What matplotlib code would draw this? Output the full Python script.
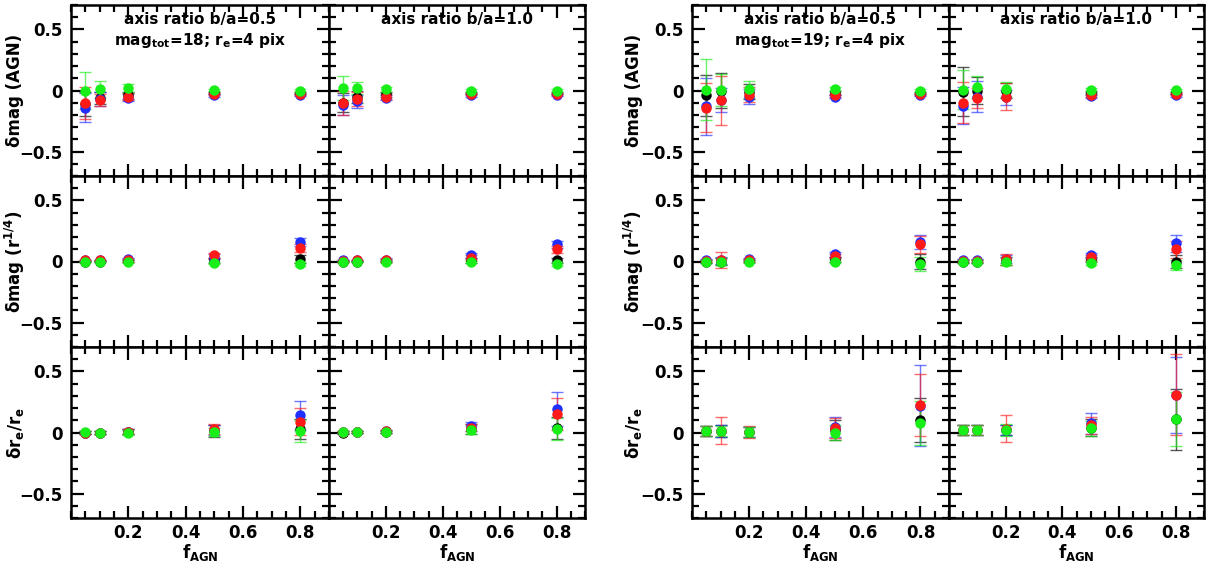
import matplotlib
matplotlib.use("Agg")
import matplotlib.pyplot as plt
from matplotlib.ticker import MultipleLocator, FixedLocator, FuncFormatter

plt.rcParams['font.family'] = ['DejaVu Sans']
plt.rcParams['font.weight'] = 'bold'
plt.rcParams['mathtext.default'] = 'bf'

# ---------------- data ----------------
f_agn = [0.05, 0.1, 0.2, 0.5, 0.8]
series_colors = ['#000000', '#1f2fff', '#ff1a1a', '#18ee18']   # black, blue, red, green
x_ticklabels = ['0.2', '0.4', '0.6', '0.8']
y_ticklabels = ['\u22120.5', '0', '0.5']

# each list: [black, blue, red, green]
# mag_tot = 18, b/a = 0.5
agn_m18_q05 = [[-0.11, -0.06, -0.04, -0.02, -0.02], [-0.14, -0.07, -0.06, -0.04, -0.035],
               [-0.10, -0.08, -0.05, -0.03, -0.03], [0.0, 0.01, 0.02, 0.005, 0.0]]
agn_m18_q05_err = [[0.10, 0.05, 0.03, 0.01, 0.01], [0.12, 0.06, 0.03, 0.01, 0.01],
                   [0.13, 0.05, 0.03, 0.01, 0.01], [0.15, 0.07, 0.03, 0.01, 0.01]]
bul_m18_q05 = [[0.0, 0.0, 0.005, 0.01, 0.02], [0.01, 0.01, 0.02, 0.04, 0.16],
               [0.01, 0.01, 0.01, 0.05, 0.11], [0.0, 0.0, 0.0, -0.01, -0.02]]
bul_m18_q05_err = [[0.005, 0.005, 0.01, 0.02, 0.03], [0.005, 0.005, 0.01, 0.02, 0.03],
                   [0.005, 0.005, 0.01, 0.02, 0.035], [0.005, 0.005, 0.01, 0.01, 0.02]]
re_m18_q05 = [[0.0, 0.0, 0.005, 0.01, 0.03], [0.0, 0.0, 0.005, 0.02, 0.14],
              [0.0, 0.0, 0.005, 0.03, 0.09], [0.005, 0.0, 0.0, 0.005, 0.01]]
re_m18_q05_err = [[0.01, 0.01, 0.02, 0.05, 0.08], [0.01, 0.01, 0.02, 0.04, 0.12],
                  [0.01, 0.01, 0.02, 0.04, 0.11], [0.01, 0.01, 0.02, 0.03, 0.09]]

# mag_tot = 18, b/a = 1.0
agn_m18_q10 = [[-0.10, -0.05, -0.03, -0.02, -0.02], [-0.12, -0.09, -0.06, -0.04, -0.035],
               [-0.10, -0.07, -0.05, -0.03, -0.03], [0.02, 0.02, 0.01, 0.0, 0.0]]
agn_m18_q10_err = [[0.08, 0.05, 0.02, 0.01, 0.01], [0.08, 0.05, 0.02, 0.01, 0.01],
                   [0.10, 0.06, 0.02, 0.01, 0.01], [0.10, 0.05, 0.02, 0.01, 0.01]]
bul_m18_q10 = [[0.0, 0.0, 0.005, 0.01, 0.01], [0.01, 0.01, 0.015, 0.05, 0.14],
               [0.005, 0.01, 0.01, 0.03, 0.10], [0.0, 0.0, 0.0, -0.005, -0.02]]
bul_m18_q10_err = [[0.005, 0.005, 0.01, 0.02, 0.02], [0.005, 0.005, 0.01, 0.02, 0.03],
                   [0.005, 0.005, 0.01, 0.02, 0.03], [0.005, 0.005, 0.01, 0.01, 0.02]]
re_m18_q10 = [[0.0, 0.005, 0.005, 0.03, 0.035], [0.005, 0.005, 0.01, 0.05, 0.19],
              [0.005, 0.005, 0.01, 0.04, 0.15], [0.005, 0.005, 0.005, 0.02, 0.03]]
re_m18_q10_err = [[0.01, 0.01, 0.01, 0.04, 0.09], [0.01, 0.01, 0.01, 0.035, 0.14],
                  [0.01, 0.01, 0.01, 0.03, 0.13], [0.01, 0.01, 0.01, 0.03, 0.09]]

# mag_tot = 19, b/a = 0.5
agn_m19_q05 = [[-0.04, 0.0, -0.01, -0.02, -0.02], [-0.13, -0.08, -0.05, -0.05, -0.035],
               [-0.14, -0.08, -0.035, -0.04, -0.03], [0.005, 0.005, 0.01, 0.01, 0.0]]
agn_m19_q05_err = [[0.17, 0.14, 0.06, 0.015, 0.01], [0.235, 0.10, 0.06, 0.015, 0.01],
                   [0.20, 0.20, 0.06, 0.015, 0.01], [0.25, 0.13, 0.07, 0.015, 0.01]]
bul_m19_q05 = [[0.0, 0.0, 0.005, 0.02, 0.0], [0.01, 0.01, 0.02, 0.06, 0.16],
               [0.005, 0.01, 0.01, 0.045, 0.14], [0.0, 0.0, 0.0, 0.0, -0.02]]
bul_m19_q05_err = [[0.01, 0.03, 0.01, 0.02, 0.06], [0.01, 0.03, 0.01, 0.02, 0.06],
                   [0.01, 0.065, 0.01, 0.02, 0.07], [0.01, 0.03, 0.01, 0.01, 0.06]]
re_m19_q05 = [[0.01, 0.01, 0.005, 0.02, 0.10], [0.01, 0.01, 0.005, 0.045, 0.22],
              [0.01, 0.015, 0.005, 0.035, 0.225], [0.015, 0.01, 0.005, 0.0, 0.08]]
re_m19_q05_err = [[0.04, 0.05, 0.04, 0.08, 0.18], [0.04, 0.05, 0.04, 0.08, 0.33],
                  [0.04, 0.11, 0.05, 0.08, 0.25], [0.04, 0.04, 0.04, 0.06, 0.18]]

# mag_tot = 19, b/a = 1.0
agn_m19_q10 = [[-0.01, 0.0, 0.0, -0.02, -0.02], [-0.125, -0.05, -0.055, -0.045, -0.04],
               [-0.10, -0.06, -0.05, -0.035, -0.03], [0.005, 0.025, 0.01, 0.005, 0.005]]
agn_m19_q10_err = [[0.20, 0.11, 0.06, 0.015, 0.01], [0.15, 0.13, 0.06, 0.015, 0.01],
                   [0.17, 0.08, 0.11, 0.015, 0.01], [0.16, 0.09, 0.06, 0.015, 0.01]]
bul_m19_q10 = [[0.0, 0.0, 0.005, 0.02, 0.0], [0.01, 0.01, 0.02, 0.05, 0.15],
               [0.005, 0.005, 0.02, 0.035, 0.10], [0.0, 0.0, 0.0, -0.01, -0.03]]
bul_m19_q10_err = [[0.01, 0.01, 0.03, 0.02, 0.05], [0.01, 0.01, 0.03, 0.02, 0.07],
                   [0.01, 0.01, 0.045, 0.02, 0.07], [0.01, 0.01, 0.03, 0.015, 0.04]]
re_m19_q10 = [[0.02, 0.02, 0.02, 0.04, 0.11], [0.02, 0.02, 0.02, 0.075, 0.31],
              [0.02, 0.02, 0.03, 0.06, 0.31], [0.02, 0.02, 0.02, 0.035, 0.11]]
re_m19_q10_err = [[0.04, 0.04, 0.04, 0.07, 0.25], [0.04, 0.04, 0.04, 0.085, 0.31],
                  [0.04, 0.04, 0.11, 0.07, 0.33], [0.04, 0.04, 0.05, 0.06, 0.22]]

row_ylabels = ['\u03b4mag (AGN)', '\u03b4mag (r$^{1/4}$)', '\u03b4r$_e$/r$_e$']
titles_q = ['axis ratio b/a=0.5', 'axis ratio b/a=1.0']
titles_mag = ['mag$_{tot}$=18; r$_e$=4 pix', 'mag$_{tot}$=19; r$_e$=4 pix']

groups = [
    [[(agn_m18_q05, agn_m18_q05_err), (agn_m18_q10, agn_m18_q10_err)],
     [(bul_m18_q05, bul_m18_q05_err), (bul_m18_q10, bul_m18_q10_err)],
     [(re_m18_q05, re_m18_q05_err), (re_m18_q10, re_m18_q10_err)]],
    [[(agn_m19_q05, agn_m19_q05_err), (agn_m19_q10, agn_m19_q10_err)],
     [(bul_m19_q05, bul_m19_q05_err), (bul_m19_q10, bul_m19_q10_err)],
     [(re_m19_q05, re_m19_q05_err), (re_m19_q10, re_m19_q10_err)]],
]

# ---------------- layout (pixels) ----------------
W, H = 1209, 569
fig = plt.figure(figsize=(W / 100, H / 100), dpi=100)
group_x = [[71, 329, 585], [692, 949, 1204]]
row_y = [5, 176, 347, 518]
ylabel_x = [15, 634]

yfmt = FuncFormatter(lambda v, p: {-0.5: '\u22120.5', 0.0: '0', 0.5: '0.5'}.get(round(v, 2), ''))

for g in range(2):
    for r in range(3):
        for c in range(2):
            x0, x1 = group_x[g][c], group_x[g][c + 1]
            ytop, ybot = row_y[r], row_y[r + 1]
            ax = fig.add_axes([x0 / W, 1 - ybot / H, (x1 - x0) / W, (ybot - ytop) / H])
            vals, errs = groups[g][r][c]
            for s in range(4):
                ax.errorbar(f_agn, vals[s], yerr=errs[s], fmt='none', ecolor=series_colors[s],
                            elinewidth=1.0, capsize=4, capthick=1.0, alpha=0.65, zorder=2 + s)
                ax.plot(f_agn, vals[s], 'o', color=series_colors[s], markersize=7.5,
                        markeredgewidth=0, zorder=6 + s)
            ax.set_xlim(0, 0.9)
            ax.set_ylim(-0.7, 0.7)
            ax.xaxis.set_major_locator(FixedLocator([0.2, 0.4, 0.6, 0.8]))
            ax.xaxis.set_minor_locator(MultipleLocator(0.05))
            ax.yaxis.set_major_locator(FixedLocator([-0.5, 0.0, 0.5]))
            ax.yaxis.set_minor_locator(MultipleLocator(0.1))
            ax.tick_params(which='both', direction='in', top=True, right=True, width=1.6,
                           labelsize=12, pad=6)
            ax.tick_params(which='major', length=9)
            ax.tick_params(which='minor', length=5)
            ax.tick_params(axis='x', pad=4)
            for sp in ax.spines.values():
                sp.set_linewidth(1.8)
            if r == 2:
                ax.set_xticklabels(x_ticklabels, fontweight='bold')
                ax.set_xlabel('f$_{AGN}$', fontsize=12, fontweight='bold', labelpad=0)
            else:
                ax.set_xticklabels([])
            if c == 0:
                ax.yaxis.set_major_formatter(yfmt)
                for lab in ax.get_yticklabels():
                    lab.set_fontweight('bold')
            else:
                ax.set_yticklabels([])
            if r == 0:
                ax.text(0.5, 0.915, titles_q[c], transform=ax.transAxes, ha='center',
                        va='center', fontsize=11, fontweight='bold')
                if c == 0:
                    ax.text(0.5, 0.79, titles_mag[g], transform=ax.transAxes, ha='center',
                            va='center', fontsize=11, fontweight='bold')
        fig.text(ylabel_x[g] / W, 1 - (row_y[r] + row_y[r + 1]) / 2 / H, row_ylabels[r],
                 rotation=90, ha='center', va='center', fontsize=12, fontweight='bold')

fig.savefig('out.png', dpi=100)
